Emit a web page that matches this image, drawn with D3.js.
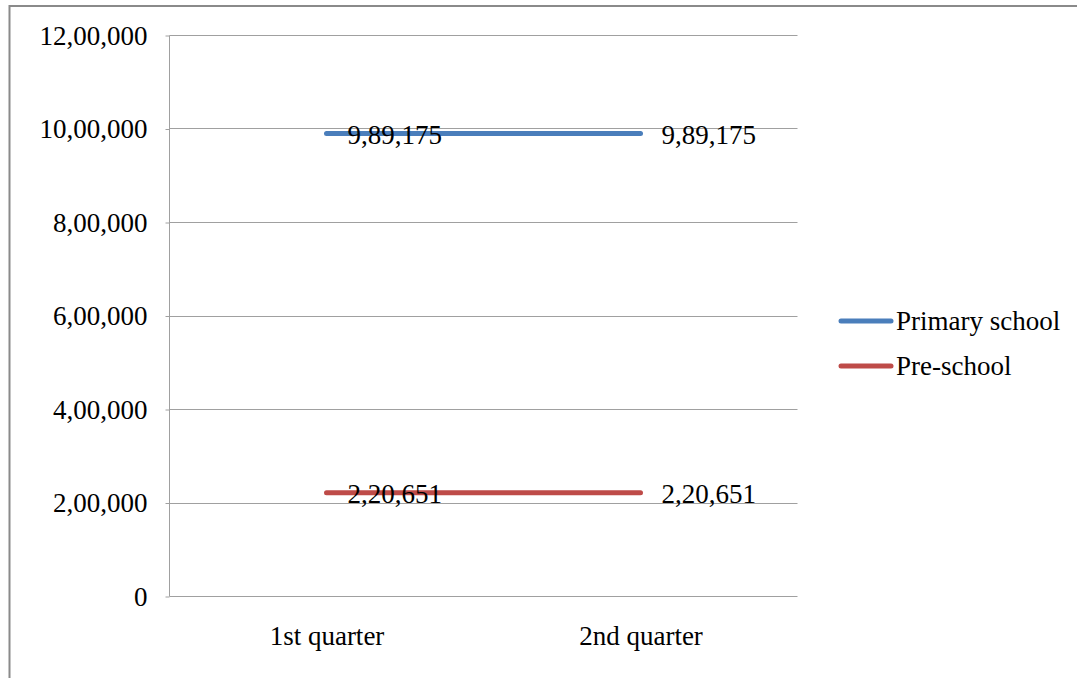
<!DOCTYPE html>
<html>
<head>
<meta charset="utf-8">
<script src="https://cdn.jsdelivr.net/npm/d3@7"></script>
<style>
  html, body { margin: 0; padding: 0; background: #fff; }
  svg { display: block; }
  text { font-family: "Liberation Serif", "Times New Roman", serif; fill: #000; }
</style>
</head>
<body>
<svg id="chart" width="1077" height="678"></svg>
<script>
// Enrolment by quarter
const categories = ["1st quarter", "2nd quarter"];
const seriesNames = ["Primary school", "Pre-school"];
const primarySchool = [989175, 989175];
const preSchool = [220651, 220651];
const yTicks = [0, 200000, 400000, 600000, 800000, 1000000, 1200000];
const seriesColors = ["#4a7ebb", "#be4b48"];

const series = [
  { name: seriesNames[0], values: primarySchool, color: seriesColors[0] },
  { name: seriesNames[1], values: preSchool, color: seriesColors[1] }
];

const FONT_SIZE = 27;

// Indian-style digit grouping (3, then 2s)
const fmt = d3.formatLocale({ decimal: ".", thousands: ",", grouping: [3, 2], currency: ["", ""] }).format(",d");

const svg = d3.select("#chart");
const plot = { left: 169.5, right: 797.5, top: 35, bottom: 596 };

// outer frame
svg.append("rect")
  .attr("x", 9.5).attr("y", 6).attr("width", 1200).attr("height", 800)
  .attr("fill", "none").attr("stroke", "#8a8a8a").attr("stroke-width", 2);

const x = d3.scalePoint().domain(categories).range([plot.left, plot.right]).padding(0.5);
const y = d3.scaleLinear().domain([0, 1200000]).range([plot.bottom, plot.top]);

// horizontal gridlines
svg.append("g").selectAll("line")
  .data(yTicks.filter(d => d > 0))
  .join("line")
  .attr("x1", plot.left).attr("x2", plot.right)
  .attr("y1", d => Math.round(y(d)) + 0.5).attr("y2", d => Math.round(y(d)) + 0.5)
  .attr("stroke", "#a0a0a0").attr("stroke-width", 1);

// y axis
const yAxis = d3.axisLeft(y).tickValues(yTicks).tickFormat(fmt).tickSize(4).tickPadding(18);
const gy = svg.append("g")
  .attr("transform", `translate(${plot.left},0.5)`)
  .call(yAxis);
gy.select(".domain").attr("stroke", "#a0a0a0").attr("d", `M0,${plot.top}V${plot.bottom}`);
gy.selectAll(".tick line").attr("stroke", "#a0a0a0");
gy.selectAll(".tick text")
  .attr("font-size", FONT_SIZE)
  .attr("font-family", "Liberation Serif, serif")
  .attr("fill", "#000");

// x axis
const xAxis = d3.axisBottom(x).tickSize(0).tickPadding(29);
const gx = svg.append("g")
  .attr("transform", `translate(0,${plot.bottom + 0.5})`)
  .call(xAxis);
gx.select(".domain").attr("stroke", "#a0a0a0").attr("d", `M${plot.left},0H${plot.right}`);
gx.selectAll(".tick text")
  .attr("font-size", FONT_SIZE)
  .attr("font-family", "Liberation Serif, serif")
  .attr("fill", "#000");

// lines
const line = d3.line().x((d, i) => x(categories[i])).y(d => y(d));
svg.append("g").selectAll("path")
  .data(series)
  .join("path")
  .attr("d", s => line(s.values))
  .attr("fill", "none")
  .attr("stroke", s => s.color)
  .attr("stroke-width", 5)
  .attr("stroke-linecap", "round");

// data labels, right of each point
series.forEach(s => {
  svg.append("g").selectAll("text")
    .data(s.values)
    .join("text")
    .attr("x", (d, i) => x(categories[i]) + 21)
    .attr("y", d => y(d) + 10)
    .attr("font-size", FONT_SIZE)
    .text(d => fmt(d));
});

// legend
const legend = svg.append("g");
series.forEach((s, i) => {
  const ly = 321 + i * 45;
  legend.append("line")
    .attr("x1", 841).attr("x2", 891)
    .attr("y1", ly).attr("y2", ly)
    .attr("stroke", s.color).attr("stroke-width", 5).attr("stroke-linecap", "round");
  legend.append("text")
    .attr("x", 896).attr("y", ly + 9)
    .attr("font-size", FONT_SIZE)
    .text(s.name);
});
</script>
</body>
</html>
